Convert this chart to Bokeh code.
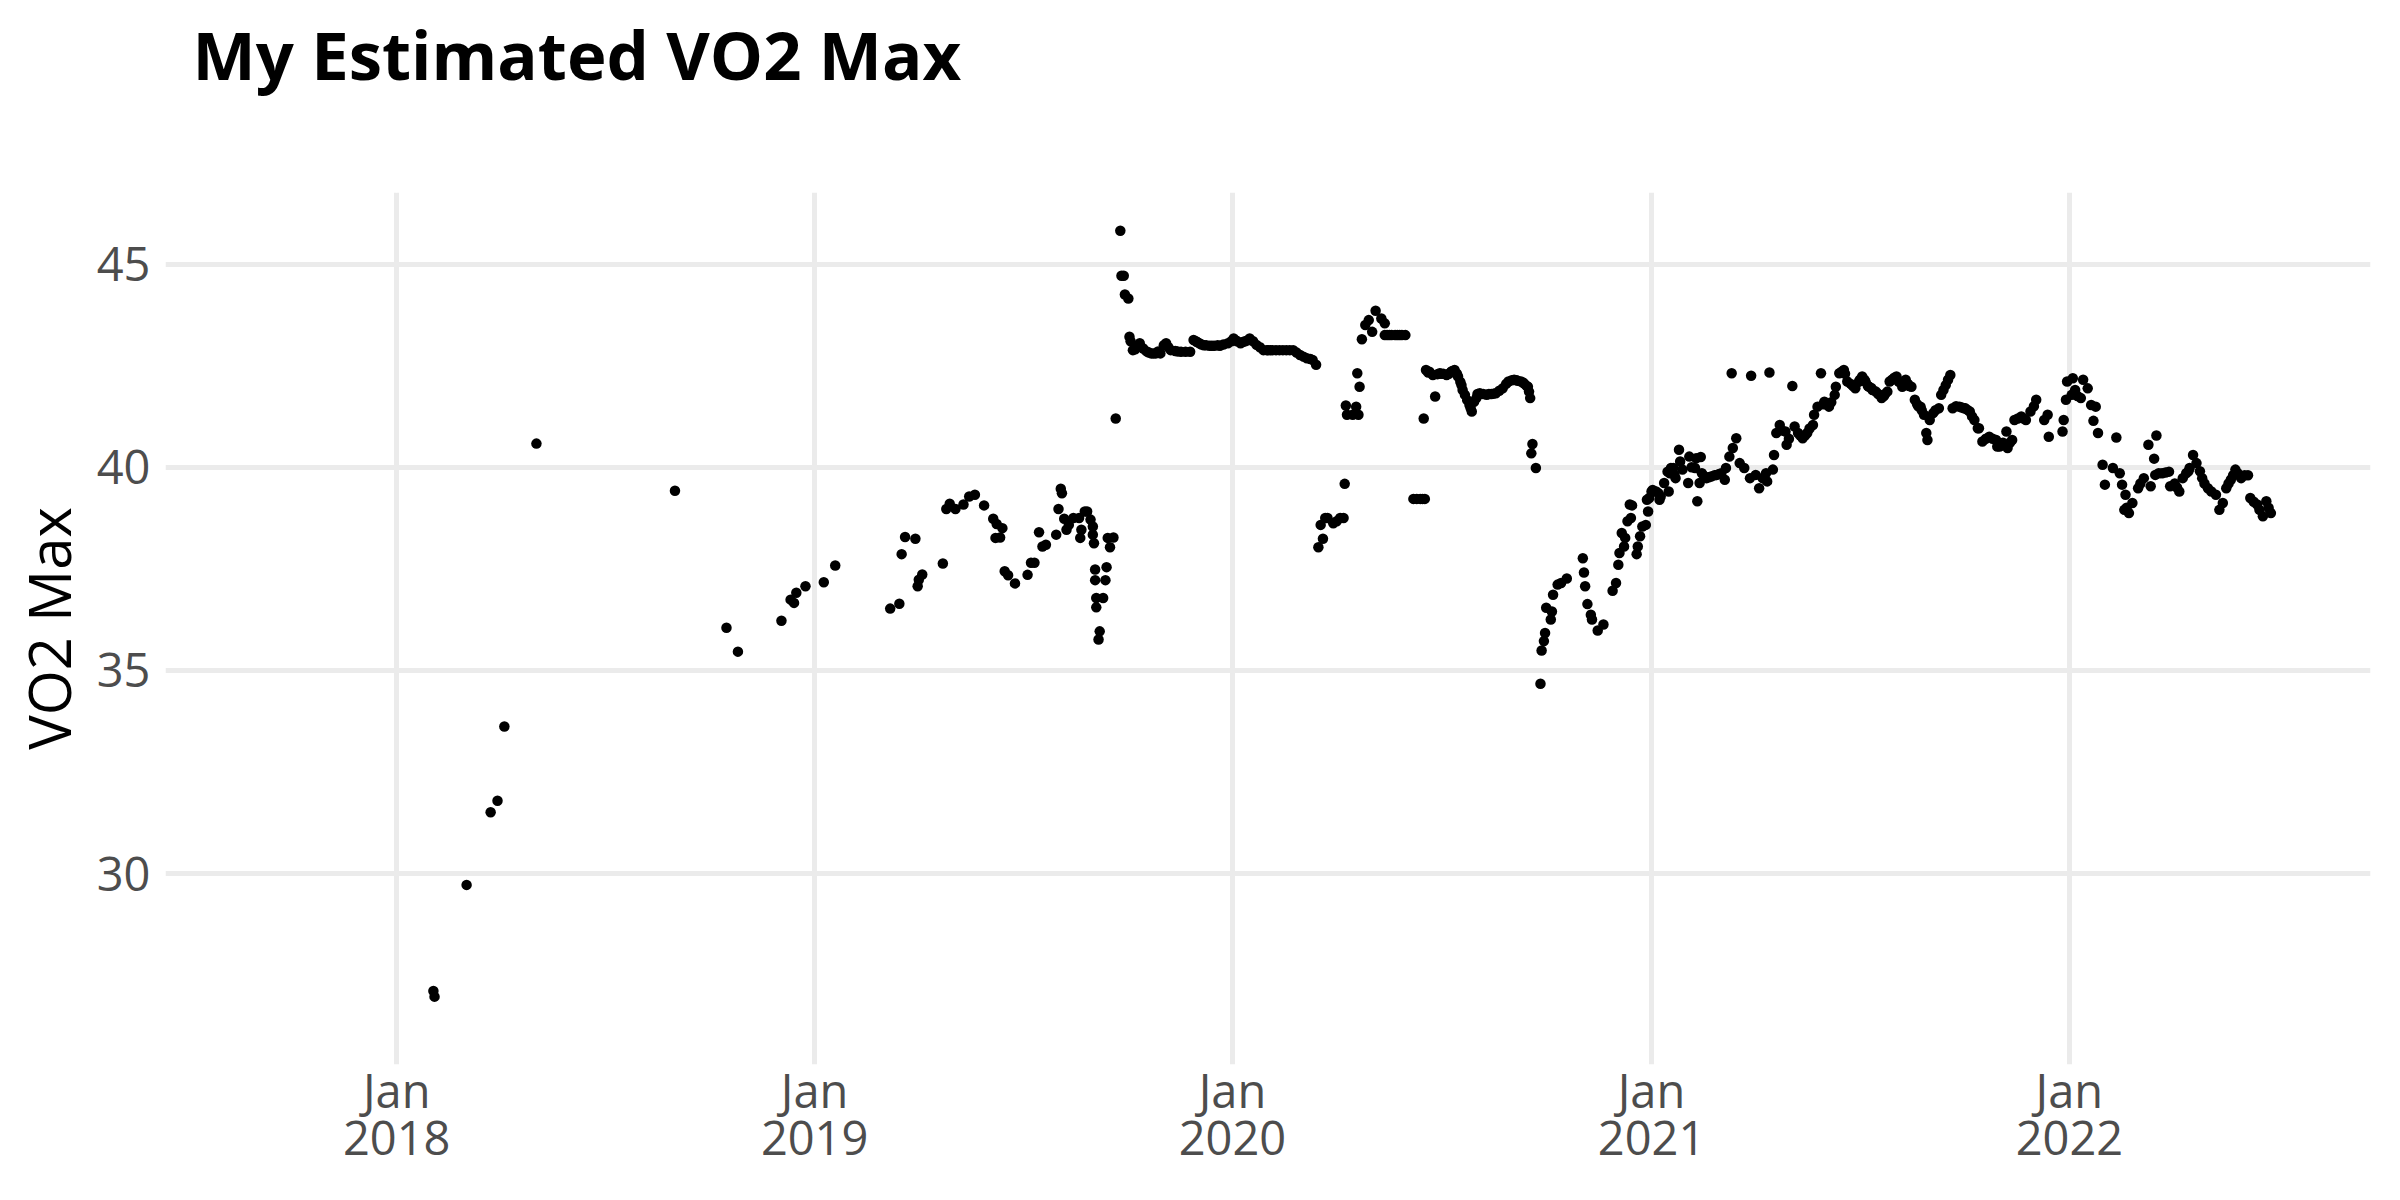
import pandas as pd
from bokeh.plotting import figure
from bokeh.models import Range1d, FixedTicker, ColumnDataSource, DatetimeAxis, LinearAxis
from bokeh.embed import file_html
from bokeh.resources import INLINE

# ---- data ----
dates_2018 = ["2018-02-02", "2018-02-03", "2018-03-03", "2018-03-24", "2018-03-30", "2018-04-05",
              "2018-05-03", "2018-09-01", "2018-10-16", "2018-10-26", "2018-12-03", "2018-12-11",
              "2018-12-14", "2018-12-16", "2018-12-24"]
vo2_2018 = [27.11, 26.97, 29.72, 31.51, 31.79, 33.62, 40.58, 39.42, 36.05, 35.46, 36.22, 36.74,
            36.66, 36.91, 37.07]

days_2019 = ["01-09", "01-19", "03-08", "03-16", "03-18", "03-21", "03-30",
             "04-01", "04-02", "04-05", "04-23", "04-26", "04-29",
             "05-04", "05-11", "05-16", "05-21", "05-29",
             "06-06", "06-08", "06-09", "06-12", "06-14", "06-16", "06-19", "06-25",
             "07-06", "07-09", "07-12", "07-16", "07-19", "07-22", "07-31",
             "08-02", "08-04", "08-05", "08-07", "08-09", "08-11", "08-15", "08-20", "08-21", "08-22",
             "08-25", "08-27", "08-30",
             "09-01", "09-01", "09-02", "09-03", "09-03", "09-04", "09-04", "09-06", "09-07", "09-10",
             "09-12", "09-13", "09-14", "09-16", "09-19", "09-21", "09-25", "09-26", "09-28", "09-29",
             "10-02",
             "10-03", "10-06", "10-09", "10-12", "10-15", "10-18", "10-22", "10-26", "10-30",
             "11-04", "11-08", "11-12", "11-17", "11-21", "11-25", "11-28",
             "12-03", "12-07", "12-12", "12-16", "12-21", "12-28",
             "10-04", "10-08", "10-20", "10-24", "10-28", "11-02", "11-06", "11-14", "11-30",
             "12-01", "12-05", "12-09", "12-14", "12-19", "12-24", "12-31"]
vo2_2019 = [37.17, 37.58, 36.52, 36.64, 37.86, 38.28, 38.24,
            37.07, 37.23, 37.36, 37.63, 38.97, 39.10,
            38.97, 39.08, 39.28, 39.32, 39.06,
            38.73, 38.26, 38.60, 38.27, 38.50, 37.44, 37.34, 37.14,
            37.35, 37.65, 37.65, 38.40, 38.05, 38.09, 38.34,
            38.97, 39.47, 39.36, 38.73, 38.46, 38.58, 38.75, 38.75, 38.26, 38.46,
            38.91, 38.91, 38.71,
            38.54, 38.34, 38.13, 37.48, 37.22, 36.78, 36.55, 35.76, 35.96, 36.78,
            37.22, 37.54, 38.26, 38.03, 38.27, 41.20, 45.82, 44.71, 44.71, 44.25,
            44.15,
            43.21, 42.88, 42.95, 43.05, 42.92, 42.85, 42.80, 42.80, 42.80,
            43.05, 42.88, 42.86, 42.84, 42.84, 42.84, 43.13,
            43.05, 43.00, 42.99, 42.99, 42.99, 43.05,
            43.10, 42.90, 42.82, 42.80, 42.85, 43.00, 42.95, 42.85, 43.10,
            43.08, 43.02, 43.00, 42.99, 43.00, 43.02, 43.10]

days_2020 = ["01-02", "01-05", "01-08", "01-12", "01-16", "01-22", "01-28", "02-01", "02-05", "02-11",
             "02-17", "02-23", "02-29", "03-06", "03-11", "03-14",
             "03-16", "03-18", "03-20", "03-22", "03-24", "03-29", "04-01", "04-04", "04-07",
             "04-08", "04-09", "04-10", "04-15", "04-18", "04-19", "04-20", "04-21",
             "04-23", "04-26", "04-29", "05-02", "05-05", "05-10", "05-13", "05-13", "05-17", "05-22",
             "05-26", "05-31",
             "06-07", "06-10", "06-13", "06-15", "06-16", "06-17",
             "06-18", "06-21", "06-24", "06-26", "06-30", "07-03", "07-06", "07-10", "07-13", "07-16",
             "07-19", "07-22", "07-26", "07-28", "07-30",
             "08-04", "08-07", "08-10", "08-14", "08-18", "08-24", "08-29", "09-03", "09-06", "09-09",
             "09-12", "09-15", "09-16", "09-17",
             "09-18", "09-19", "09-22",
             "09-26", "09-27", "09-29", "09-30", "10-01", "10-05", "10-06", "10-07", "10-11", "10-14",
             "10-19",
             "11-02", "11-03", "11-04", "11-06", "11-09", "11-10", "11-15", "11-20", "11-28",
             "12-01", "12-03", "12-04", "12-06", "12-08", "12-09", "12-11", "12-13", "12-14", "12-15",
             "12-19", "12-20", "12-22", "12-24", "12-27", "12-28", "12-29", "12-30",
             "01-04", "01-10", "01-14", "01-19", "01-25", "01-31", "02-03", "02-08", "02-14", "02-20",
             "02-26", "03-03", "03-09",
             "05-15", "05-19", "05-24", "05-28",
             "06-20", "06-28", "07-01", "07-08", "07-11", "07-15", "07-18", "07-20", "07-24", "07-27",
             "08-01", "08-02", "08-12", "08-16", "08-21", "08-27", "09-01", "09-05", "09-11", "09-14"]
vo2_2020 = [43.17, 43.10, 43.05, 43.10, 43.17, 43.01, 42.88, 42.88, 42.88, 42.88,
            42.88, 42.88, 42.76, 42.68, 42.64, 42.52,
            38.03, 38.58, 38.24, 38.75, 38.75, 38.62, 38.67, 38.75, 38.75,
            39.59, 41.52, 41.29, 41.29, 41.49, 42.31, 41.29, 41.98,
            43.15, 43.50, 43.62, 43.33, 43.85, 43.66, 43.54, 43.25, 43.25, 43.25,
            43.25, 43.25,
            39.22, 39.22, 39.22, 39.22, 41.20, 39.22,
            42.39, 42.35, 42.27, 41.74, 42.31, 42.30, 42.27, 42.35, 42.39, 42.23,
            42.02, 41.78, 41.53, 41.37, 41.61,
            41.82, 41.80, 41.78, 41.80, 41.82, 41.94, 42.11, 42.15, 42.13, 42.11,
            42.05, 41.98, 41.86, 41.70,
            40.34, 40.57, 39.98,
            34.67, 35.49, 35.72, 35.92, 36.54, 36.25, 36.45, 36.86, 37.11, 37.15,
            37.26,
            37.76, 37.41, 37.07, 36.63, 36.37, 36.25, 35.98, 36.13, 36.96,
            37.15, 37.60, 37.89, 38.38, 38.05, 38.26, 38.67, 39.08, 38.75, 39.06,
            37.86, 38.05, 38.30, 38.54, 38.58, 39.20, 38.91, 39.24,
            43.12, 43.08, 43.12, 43.10, 42.95, 42.88, 42.88, 42.88, 42.88, 42.88,
            42.82, 42.72, 42.66,
            43.25, 43.25, 43.25, 43.25,
            42.33, 42.29, 42.30, 42.30, 42.37, 42.30, 42.10, 41.90, 41.65, 41.45,
            41.70, 41.80, 41.80, 41.81, 41.88, 42.05, 42.14, 42.14, 42.08, 42.00]

days_2021 = ["01-01", "01-02", "01-05", "01-07", "01-08", "01-09", "01-12", "01-15", "01-16", "01-17",
             "01-18", "01-20", "01-21", "01-22", "01-25", "01-26", "01-28",
             "02-02", "02-03", "02-08", "02-09", "02-10", "02-12", "02-13", "02-14", "02-18", "02-22",
             "02-27",
             "03-03", "03-06", "03-07", "03-10", "03-12", "03-13", "03-16", "03-19", "03-23", "03-28",
             "03-29",
             "04-02", "04-05", "04-08", "04-11", "04-12", "04-14", "04-17", "04-18", "04-20", "04-23",
             "04-28", "04-29",
             "05-04", "05-06", "05-09", "05-13", "05-17", "05-22", "05-23", "05-26", "05-29",
             "06-01", "06-05", "06-10", "06-11", "06-14", "06-18", "06-21", "06-24", "06-28",
             "07-01", "07-04", "07-07", "07-10", "07-13", "07-16", "07-21", "07-26", "07-28",
             "08-03", "08-08", "08-11", "08-16", "08-19", "08-24", "08-27", "08-29", "08-30",
             "09-01", "09-04", "09-09", "09-11", "09-15", "09-19", "09-21", "09-24", "09-27",
             "10-01", "10-04", "10-06", "10-10", "10-13", "10-14", "10-17", "10-23", "10-29", "10-30",
             "11-01", "11-07", "11-08", "11-12", "11-14", "11-20", "11-24", "11-28",
             "12-03", "12-10", "12-13", "12-14", "12-26", "12-27", "12-29", "12-30",
             "06-07", "06-16", "06-19", "06-26", "07-02", "07-06", "07-09", "07-12", "07-18", "07-23",
             "07-24", "07-30", "08-01", "08-05", "08-09", "08-13", "08-14", "08-21", "08-22", "08-25",
             "09-06", "09-13", "09-17", "09-29", "10-02", "10-08", "10-20", "10-26", "11-04", "11-10",
             "11-17", "11-22", "12-01",
             "02-05", "02-16", "02-20", "02-25", "03-01", "04-25", "05-01", "05-11", "05-15", "05-19",
             "05-31", "06-03"]
vo2_2021 = [39.40, 39.44, 39.40, 39.36, 39.20, 39.28, 39.61, 39.89, 39.40, 39.85,
            39.98, 39.98, 39.81, 39.73, 40.43, 40.14, 39.94,
            39.61, 40.26, 39.98, 40.22, 39.16, 39.61, 40.25, 39.85, 39.73, 39.77,
            39.81,
            39.85, 39.69, 39.98, 40.26, 42.31, 40.47, 40.71, 40.10, 39.98, 39.73,
            42.25,
            39.81, 39.48, 39.73, 39.85, 39.65, 42.33, 39.94, 40.30, 40.84, 41.04,
            40.88, 40.55,
            42.00, 41.00, 40.84, 40.71, 40.84, 41.04, 41.29, 41.49, 42.31,
            41.61, 41.49, 41.78, 41.98, 42.31, 42.39, 42.11, 42.05, 41.94,
            42.10, 42.23, 42.10, 41.98, 41.90, 41.86, 41.70, 41.86, 42.11,
            42.23, 41.98, 42.15, 41.98, 41.66, 41.49, 41.29, 40.84, 40.67,
            41.16, 41.33, 41.45, 41.78, 42.02, 42.27, 41.45, 41.50, 41.49,
            41.45, 41.41, 41.37, 41.16, 40.96, 40.96, 40.63, 40.75, 40.67, 40.51,
            40.51, 40.88, 40.47, 40.67, 41.16, 41.25, 41.16, 41.37,
            41.66, 41.16, 41.29, 40.75, 40.88, 41.16, 41.66, 42.11,
            41.60, 42.35, 42.30, 42.00, 42.15, 42.15, 42.00, 41.95, 41.80, 41.75,
            41.80, 42.15, 42.20, 42.10, 42.05, 42.05, 42.00, 41.55, 41.50, 41.40,
            41.40, 41.90, 42.15, 41.47, 41.45, 41.25, 40.70, 40.70, 40.60, 40.60,
            41.20, 41.20, 41.50,
            40.00, 39.78, 39.75, 39.80, 39.83, 40.90, 40.70, 40.78, 40.78, 40.95,
            41.55, 41.55]

days_2022 = ["01-03", "01-04", "01-11", "01-13", "01-17", "01-20", "01-22", "01-24", "01-26", "01-30",
             "02-01", "02-08", "02-11", "02-14", "02-16", "02-18", "02-19", "02-22", "02-25",
             "03-02", "03-07", "03-11", "03-13", "03-16", "03-17", "03-18", "03-23", "03-29", "03-30",
             "04-03", "04-07", "04-10", "04-13", "04-16", "04-19", "04-22", "04-25", "04-27",
             "05-02", "05-05", "05-09", "05-12", "05-15", "05-18", "05-22", "05-26", "05-31",
             "06-03", "06-06", "06-08", "06-11", "06-14", "06-19", "06-22", "06-26",
             "01-06", "01-08", "02-20", "03-04", "03-20", "03-26", "04-05", "04-15", "04-29", "05-20",
             "05-24", "05-28", "06-16", "06-24"]
vo2_2022 = [41.78, 42.19, 41.70, 42.15, 41.94, 41.53, 41.14, 41.49, 40.84, 40.06,
            39.57, 39.98, 40.73, 39.85, 39.57, 38.95, 39.32, 38.87, 39.12,
            39.48, 39.73, 40.55, 39.53, 40.21, 39.81, 40.78, 39.85, 39.89, 39.53,
            39.60, 39.40, 39.73, 39.85, 39.98, 40.30, 40.10, 39.90, 39.73,
            39.48, 39.40, 39.32, 38.95, 39.12, 39.48, 39.69, 39.94, 39.73,
            39.80, 39.80, 39.24, 39.15, 39.08, 38.79, 39.16, 38.87,
            41.90, 41.75, 39.00, 39.60, 39.85, 39.87, 39.50, 39.90, 39.60, 39.60,
            39.80, 39.85, 38.95, 39.00]

tick_years = [2018, 2019, 2020, 2021, 2022]
tick_month_label = "Jan"
y_ticks = [30, 35, 40, 45]
title_text = "My Estimated VO2 Max"
y_label = "VO2 Max"

# ---- assemble ----
all_dates = list(dates_2018)
all_vo2 = list(vo2_2018)
for yr, days, vals in [(2019, days_2019, vo2_2019), (2020, days_2020, vo2_2020),
                       (2021, days_2021, vo2_2021), (2022, days_2022, vo2_2022)]:
    assert len(days) == len(vals), (yr, len(days), len(vals))
    all_dates += [f"{yr}-{d}" for d in days]
    all_vo2 += vals

src = ColumnDataSource(dict(date=pd.to_datetime(all_dates), vo2=all_vo2))

x_start = pd.Timestamp("2017-06-13")
x_end = pd.Timestamp("2022-09-21")

p = figure(width=2400, height=1200, x_axis_type="datetime",
           x_range=Range1d(x_start, x_end), y_range=Range1d(25.30, 46.76),
           output_backend="svg", toolbar_location=None,
           min_border_left=165, min_border_right=30, min_border_top=191, min_border_bottom=136)

p.scatter(x="date", y="vo2", source=src, size=10.5, color="black", line_color=None)

# title
p.title.text = title_text
p.title.align = "left"
p.title.offset = 27
p.title.standoff = 10
p.title.text_font = "Open Sans"
p.title.text_font_style = "bold"
p.title.text_font_size = "67px"
p.title.text_color = "black"

# x axes: month line and year line
tick_ms = [pd.Timestamp(f"{y}-01-01").value / 1e6 for y in tick_years]
xt = FixedTicker(ticks=tick_ms)
month_axis = p.below[0]
month_axis.ticker = xt
p.xgrid.ticker = xt
month_axis.major_label_overrides = {t: tick_month_label for t in tick_ms}
month_axis.major_label_standoff = -7

year_axis = DatetimeAxis(ticker=xt, major_label_overrides={t: str(y) for t, y in zip(tick_ms, tick_years)})
year_axis.major_label_standoff = -4
p.add_layout(year_axis, "below")

# y axis
y_axis = p.left[0]
yt = FixedTicker(ticks=y_ticks)
y_axis.ticker = yt
p.ygrid.ticker = yt
y_axis.axis_label = y_label
y_axis.axis_label_text_font = "Open Sans"
y_axis.axis_label_text_font_size = "58px"
y_axis.axis_label_text_font_style = "normal"
y_axis.axis_label_text_color = "black"
y_axis.axis_label_standoff = 6
y_axis.major_label_standoff = 15

for ax in (month_axis, year_axis, y_axis):
    ax.axis_line_color = None
    ax.major_tick_line_color = None
    ax.minor_tick_line_color = None
    ax.major_tick_out = 0
    ax.major_tick_in = 0
    ax.minor_tick_out = 0
    ax.minor_tick_in = 0
    ax.major_label_text_font = "Open Sans"
    ax.major_label_text_font_size = "47px"
    ax.major_label_text_color = "#4D4D4D"

# blank spacer between the title and the plot area: one white (invisible) tick, empty label
spacer_tick = [tick_ms[0]]
spacer = LinearAxis(ticker=FixedTicker(ticks=spacer_tick), axis_line_color=None,
                    major_tick_line_color="white", major_tick_line_width=1,
                    minor_tick_line_color=None,
                    major_tick_in=0, major_tick_out=88, minor_tick_in=0, minor_tick_out=0,
                    major_label_standoff=0, major_label_text_font_size="1px",
                    major_label_overrides={spacer_tick[0]: ""})
p.add_layout(spacer, "above")

for g in (p.xgrid, p.ygrid):
    g.grid_line_color = "#EBEBEB"
    g.grid_line_width = 5
    g.minor_grid_line_color = None

p.outline_line_color = None
p.background_fill_color = "white"
p.border_fill_color = "white"

open("out.html", "w").write(file_html(p, INLINE))
